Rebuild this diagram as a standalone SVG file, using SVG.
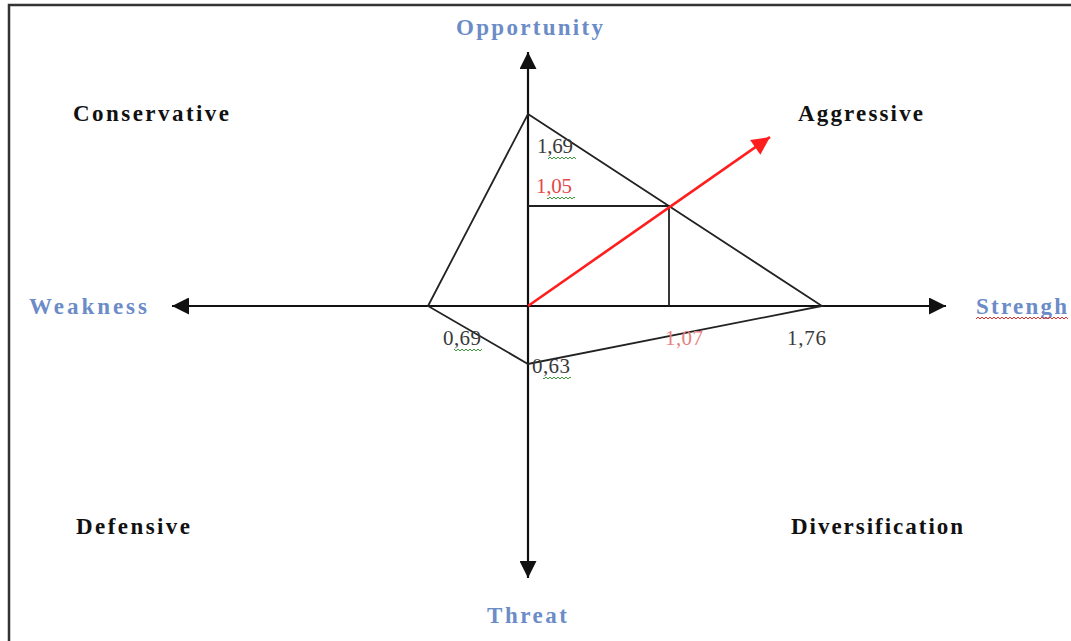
<svg xmlns="http://www.w3.org/2000/svg" width="1071" height="641" viewBox="0 0 1071 641">
<style>
.quad{font-family:"Liberation Serif","Times New Roman",serif;font-weight:bold;font-size:23px;fill:#111}
.axis{font-family:"Liberation Serif","Times New Roman",serif;font-weight:bold;font-size:23px;fill:#6b8cc7}
.num{font-family:"Liberation Serif","Times New Roman",serif;font-size:21px;fill:#3a3a3a}
.numr{fill:#e5484a}
.numl{fill:#e88080}
.ax{stroke:#111;stroke-width:2.2;fill:none}
.poly{stroke:#222;stroke-width:1.8;fill:none}
.red{stroke:#ff1e1e;stroke-width:2.6;fill:none}
</style>
<defs>
<marker id="ah" viewBox="0 0 10 10" refX="10" refY="5" markerUnits="userSpaceOnUse" markerWidth="20" markerHeight="17" orient="auto">
<path d="M0,0 L10,5 L0,10 z" fill="#111"/>
</marker>
<marker id="ahr" viewBox="0 0 10 10" refX="10" refY="5" markerUnits="userSpaceOnUse" markerWidth="22" markerHeight="18" orient="auto">
<path d="M0,0 L10,5 L0,10 z" fill="#ff1e1e"/>
</marker>
<pattern id="wavG" patternUnits="userSpaceOnUse" width="4" height="4">
<path d="M0,3 L2,1 L4,3" stroke="#3c9a3c" stroke-width="1" fill="none"/>
</pattern>
<pattern id="wavR" patternUnits="userSpaceOnUse" width="4" height="4">
<path d="M0,3 L2,1 L4,3" stroke="#e03030" stroke-width="1" fill="none"/>
</pattern>
</defs>
<rect width="1071" height="641" fill="#fff"/>
<path d="M9,641 L9,5 L1071,5" stroke="#333" stroke-width="2.5" fill="none"/>

<g id="connectors">
<line class="ax" x1="528" y1="306" x2="528" y2="52" marker-end="url(#ah)"/>
<line class="ax" x1="528" y1="306" x2="528" y2="578" marker-end="url(#ah)"/>
<line class="ax" x1="528" y1="306" x2="172" y2="306" marker-end="url(#ah)"/>
<line class="ax" x1="528" y1="306" x2="946" y2="306" marker-end="url(#ah)"/>
<polygon class="poly" points="528,114 822,306 528,364 428,306"/>
<polyline class="poly" points="528,206 669,206 669,306"/>
<line class="red" x1="528" y1="306" x2="770" y2="137" marker-end="url(#ahr)"/>
</g>

<g id="frame-labels">
<g id="conservative"><text class="quad" x="73" y="121" textLength="156" lengthAdjust="spacing">Conservative</text></g>
<g id="aggressive"><text class="quad" x="798" y="121" textLength="125" lengthAdjust="spacing">Aggressive</text></g>
<g id="defensive"><text class="quad" x="76" y="534" textLength="114" lengthAdjust="spacing">Defensive</text></g>
<g id="diversification"><text class="quad" x="791" y="534" textLength="172" lengthAdjust="spacing">Diversification</text></g>
<g id="opportunity"><text class="axis" x="456" y="35" textLength="147" lengthAdjust="spacing">Opportunity</text></g>
<g id="threat"><text class="axis" x="487" y="623" textLength="80" lengthAdjust="spacing">Threat</text></g>
<g id="weakness"><text class="axis" x="29" y="314" textLength="118" lengthAdjust="spacing">Weakness</text></g>
<g id="strengh"><text class="axis" x="976" y="314" textLength="91" lengthAdjust="spacing">Strengh</text>
<rect x="976" y="316" width="92" height="4" fill="url(#wavR)"/></g>
</g>

<g id="values">
<g id="v169"><text class="num" x="537" y="153" textLength="36" lengthAdjust="spacing">1,69</text><rect x="548" y="155" width="28" height="4" fill="url(#wavG)"/></g>
<g id="v105"><text class="num numr" x="536" y="193" textLength="36" lengthAdjust="spacing">1,05</text><rect x="547" y="195" width="28" height="4" fill="url(#wavG)"/></g>
<g id="v069"><text class="num" x="443" y="345" textLength="38" lengthAdjust="spacing">0,69</text><rect x="454" y="347" width="28" height="4" fill="url(#wavG)"/></g>
<g id="v063"><text class="num" x="532" y="373" textLength="38" lengthAdjust="spacing">0,63</text><rect x="543" y="375" width="28" height="4" fill="url(#wavG)"/></g>
<g id="v107"><text class="num numl" x="665" y="345" textLength="38" lengthAdjust="spacing">1,07</text></g>
<g id="v176"><text class="num" x="787" y="345" textLength="39" lengthAdjust="spacing">1,76</text></g>
</g>
</svg>
